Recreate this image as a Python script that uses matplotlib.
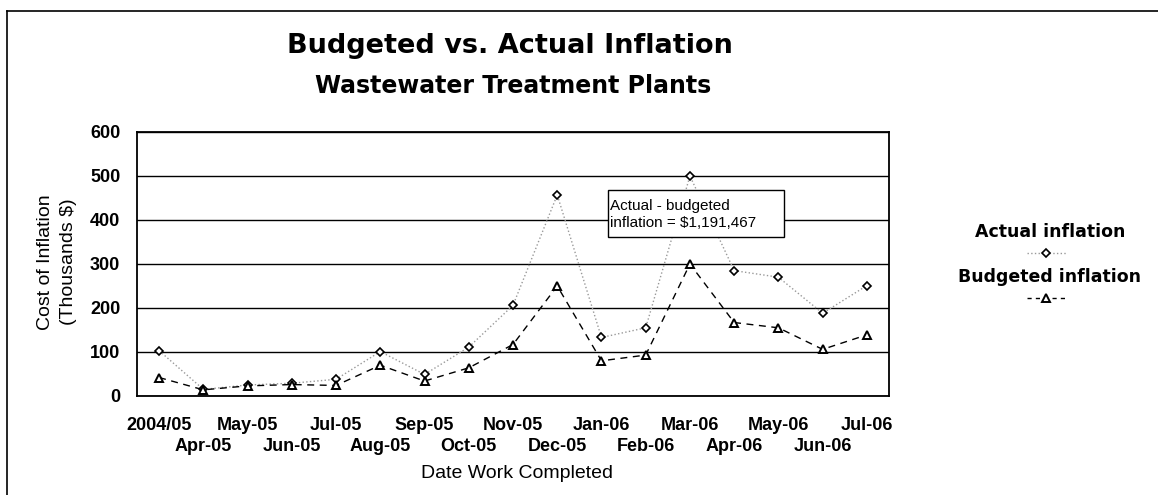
import matplotlib
matplotlib.use("Agg")
import matplotlib.pyplot as plt
from matplotlib.lines import Line2D
from matplotlib.patches import Rectangle

plt.rcParams['font.family'] = ['Liberation Sans', 'DejaVu Sans']

# data (thousands of $)
months = ['2004/05', 'Apr-05', 'May-05', 'Jun-05', 'Jul-05', 'Aug-05', 'Sep-05',
          'Oct-05', 'Nov-05', 'Dec-05', 'Jan-06', 'Feb-06', 'Mar-06', 'Apr-06',
          'May-06', 'Jun-06', 'Jul-06']
actual = [103, 15, 25, 29, 38, 101, 49, 111, 206, 457, 133, 155, 500, 285, 270, 188, 251]
budgeted = [42, 14, 23, 26, 24, 70, 34, 64, 117, 250, 80, 93, 300, 167, 155, 106, 139]
yticks = [0, 100, 200, 300, 400, 500, 600]
note = 'Actual - budgeted\ninflation = $1,191,467'

W, H = 1158, 495
fig = plt.figure(figsize=(W / 100, H / 100), dpi=100)
ax = fig.add_axes([137 / W, 99 / H, 752 / W, 264 / H])

x = list(range(len(months)))
ax.plot(x, actual, color='#999999', linestyle=':', linewidth=1.0,
        marker='D', markersize=4.5, markerfacecolor='white', markeredgecolor='black',
        markeredgewidth=1.2, zorder=3)
ax.plot(x, budgeted, color='black', linestyle=(0, (5, 4)), linewidth=1.0,
        marker='^', markersize=5.5, markerfacecolor='white', markeredgecolor='black',
        markeredgewidth=1.4, zorder=3)

ax.set_xlim(-0.5, len(months) - 0.5)
ax.set_ylim(0, 600)
ax.set_yticks(yticks)
ax.set_yticklabels([str(v) for v in yticks], fontsize=13, fontweight='bold')

# staggered category labels: even ones on the first row, odd ones below
ax.set_xticks(x[0::2])
ax.set_xticklabels(months[0::2], fontsize=13, fontweight='bold')
ax.set_xticks(x[1::2], minor=True)
ax.set_xticklabels(months[1::2], minor=True, fontsize=13, fontweight='bold')
ax.tick_params(axis='x', which='major', length=0, pad=15)
ax.tick_params(axis='x', which='minor', length=0, pad=30)
ax.tick_params(axis='y', length=0, pad=12)
ax.grid(axis='y', color='black', linewidth=1.0)
ax.set_axisbelow(True)
for s in ax.spines.values():
    s.set_linewidth(1.3)

# annotation box
ax.add_patch(Rectangle((10.14, 361), 3.99, 107, facecolor='white', edgecolor='black',
                       linewidth=1.0, zorder=4))
ax.text(10.19, 413, note, fontsize=11, ha='left', va='center', zorder=5, linespacing=1.25)

# titles and axis labels
fig.text(510 / W, 1 - 46 / H, 'Budgeted vs. Actual Inflation', fontsize=19.5,
         family='DejaVu Sans', fontweight='bold', ha='center', va='center')
fig.text(513 / W, 1 - 86 / H, 'Wastewater Treatment Plants', fontsize=17,
         family='DejaVu Sans', fontweight='bold', ha='center', va='center')
fig.text(517 / W, 1 - 473 / H, 'Date Work Completed', fontsize=14, ha='center', va='center')
fig.text(57 / W, 1 - 262 / H, 'Cost of Inflation\n(Thousands $)', fontsize=14,
         rotation=90, ha='center', va='center', linespacing=1.4)

# legend at right
lx0, lx1, lxm = 1027 / W, 1067 / W, 1046 / W
fig.text(1050 / W, 1 - 232 / H, 'Actual inflation', fontsize=12.5, family='DejaVu Sans',
         fontweight='bold', ha='center', va='center')
fig.add_artist(Line2D([lx0, lx1], [1 - 253 / H] * 2, transform=fig.transFigure,
                      color='#999999', linestyle=':', linewidth=1.0))
fig.add_artist(Line2D([lxm], [1 - 253 / H], transform=fig.transFigure, marker='D',
                      markersize=4.5, markerfacecolor='white', markeredgecolor='black',
                      markeredgewidth=1.2, linestyle='none'))
fig.text(1049 / W, 1 - 277 / H, 'Budgeted inflation', fontsize=12.5, family='DejaVu Sans',
         fontweight='bold', ha='center', va='center')
fig.add_artist(Line2D([lx0, lx1], [1 - 298 / H] * 2, transform=fig.transFigure,
                      color='black', linestyle=(0, (3, 3)), linewidth=1.0))
fig.add_artist(Line2D([lxm], [1 - 298 / H], transform=fig.transFigure, marker='^',
                      markersize=5.5, markerfacecolor='white', markeredgecolor='black',
                      markeredgewidth=1.4, linestyle='none'))

# outer frame (only top and left edges show in the scan)
fig.add_artist(Line2D([7 / W, 1.0], [1 - 11 / H] * 2, transform=fig.transFigure,
                      color='black', linewidth=1.2))
fig.add_artist(Line2D([7 / W] * 2, [0, 1 - 11 / H], transform=fig.transFigure,
                      color='black', linewidth=1.2))

fig.savefig('out.png', dpi=100)
